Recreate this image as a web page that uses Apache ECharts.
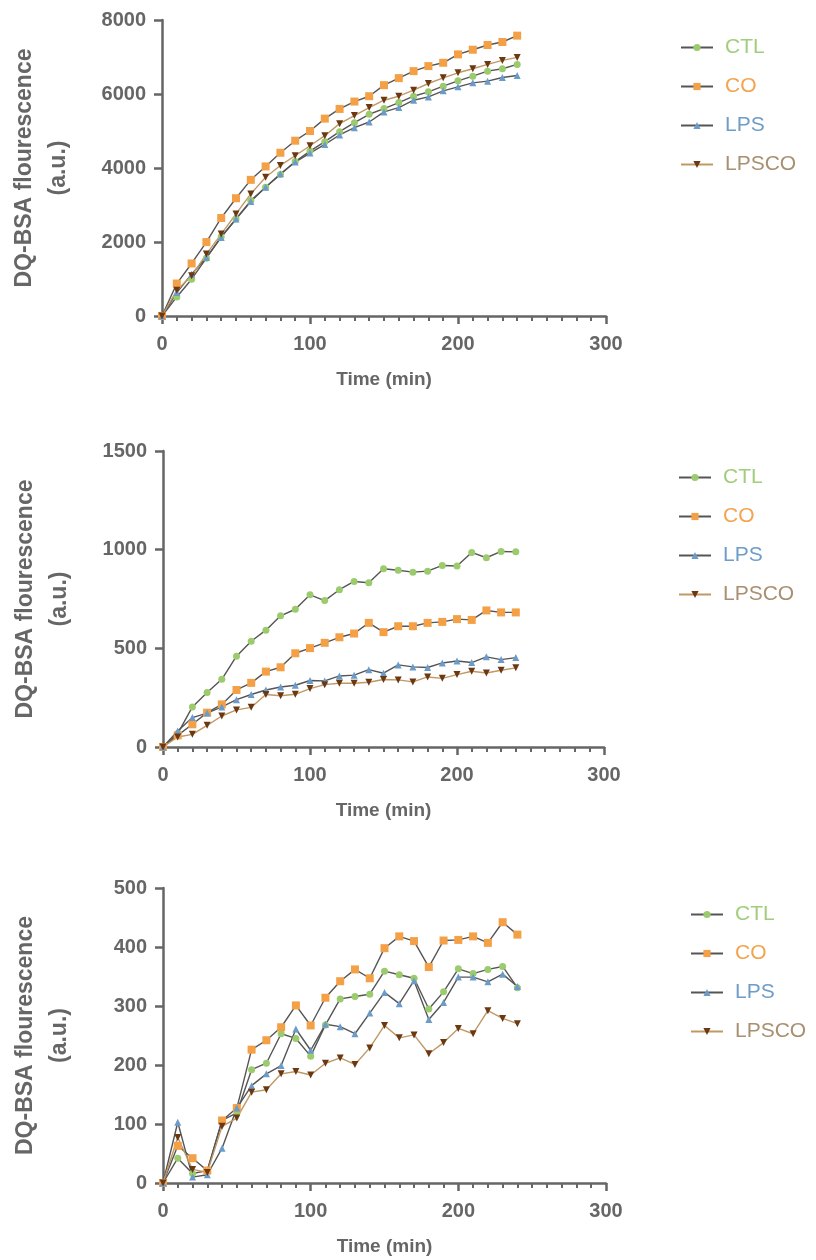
<!DOCTYPE html>
<html>
<head>
<meta charset="utf-8">
<script src="https://cdn.jsdelivr.net/npm/echarts@6/dist/echarts.min.js"></script>
<style>
  body { margin: 0; background: #fff; }
  #chart { width: 816px; height: 1260px; }
</style>
</head>
<body>
<div id="chart"></div>
<script>
var times = [0, 10, 20, 30, 40, 50, 60, 70, 80, 90, 100, 110, 120, 130, 140, 150, 160, 170, 180, 190, 200, 210, 220, 230, 240];
var groups = ["CTL", "CO", "LPS", "LPSCO"];

// panel 1
var ctl1 = [0, 515, 995, 1564, 2143, 2622, 3119, 3481, 3825, 4177, 4458, 4711, 4982, 5226, 5452, 5606, 5769, 5940, 6058, 6212, 6356, 6483, 6618, 6682, 6800];
var co1 = [0, 877, 1420, 1998, 2649, 3183, 3680, 4042, 4412, 4738, 5000, 5335, 5597, 5796, 5940, 6239, 6429, 6618, 6754, 6844, 7071, 7197, 7324, 7405, 7577];
var lps1 = [0, 633, 1130, 1582, 2125, 2622, 3092, 3481, 3843, 4159, 4403, 4638, 4892, 5090, 5244, 5515, 5633, 5832, 5922, 6085, 6193, 6302, 6347, 6447, 6501];
var lpsco1 = [0, 696, 1085, 1673, 2215, 2758, 3300, 3752, 4069, 4331, 4602, 4873, 5199, 5416, 5633, 5832, 5940, 6103, 6284, 6438, 6573, 6682, 6800, 6908, 6989];

// panel 2
var ctl2 = [0, 68, 203, 276, 343, 460, 536, 592, 665, 698, 771, 742, 797, 839, 832, 903, 896, 886, 891, 920, 917, 986, 959, 991, 989];
var co2 = [0, 59, 115, 174, 216, 289, 325, 382, 404, 475, 501, 528, 556, 575, 629, 582, 612, 612, 629, 634, 648, 644, 692, 682, 682];
var lps2 = [0, 81, 149, 172, 203, 240, 266, 289, 304, 313, 337, 335, 360, 364, 392, 374, 416, 406, 403, 426, 436, 428, 457, 443, 453];
var lpsco2 = [0, 51, 64, 110, 157, 188, 201, 266, 260, 267, 296, 316, 323, 323, 328, 342, 340, 330, 355, 348, 367, 384, 375, 389, 401];

// panel 3
var ctl3 = [0, 42, 16, 21, 106, 119, 192, 203, 253, 245, 215, 268, 312, 316, 320, 359, 353, 347, 295, 324, 363, 355, 362, 367, 331];
var co3 = [0, 63, 42, 21, 106, 127, 226, 242, 264, 301, 267, 314, 342, 362, 347, 398, 418, 410, 366, 411, 412, 418, 407, 442, 421];
var lps3 = [0, 103, 10, 14, 59, 127, 165, 185, 199, 261, 225, 269, 265, 253, 288, 323, 304, 343, 277, 306, 349, 349, 341, 354, 333];
var lpsco3 = [0, 77, 23, 18, 96, 110, 154, 158, 185, 189, 183, 203, 212, 201, 229, 267, 246, 251, 219, 238, 262, 253, 292, 279, 270];

var yMax = [8000, 1500, 500];
var yStep = [2000, 500, 100];

var axisColor = "#666";
var markColors = { CTL: "#9ccb6d", CO: "#f3a047", LPS: "#6b9cc9", LPSCO: "#6b3812" };
var textColors = { CTL: "#a3cc7c", CO: "#f2a450", LPS: "#6f9dc8", LPSCO: "#a89070" };
var lineColors = { CTL: "#555", CO: "#555", LPS: "#555", LPSCO: "#bf9864" };
var symbols = { CTL: "circle", CO: "rect", LPS: "triangle", LPSCO: "triangle" };

var panels = [
  [ctl1, co1, lps1, lpsco1],
  [ctl2, co2, lps2, lpsco2],
  [ctl3, co3, lps3, lpsco3]
];

var grids = [
  { left: 157, top: 20, width: 449, height: 296 },
  { left: 163, top: 451, width: 441, height: 296 },
  { left: 163, top: 888, width: 443, height: 295 }
];
var legendPos = [
  { left: 675, top: 31 },
  { left: 673, top: 461 },
  { left: 685, top: 898 }
];

function zip(vals) {
  return times.map(function (t, i) { return [t, vals[i]]; });
}

var xAxes = [], yAxes = [], series = [], legends = [];
grids.forEach(function (g, k) {
  xAxes.push({
    gridIndex: k,
    type: "value",
    min: 0, max: 300, interval: 100,
    name: "Time (min)",
    nameLocation: "middle",
    nameGap: 54,
    nameTextStyle: { color: axisColor, fontWeight: "bold", fontSize: 19, fontFamily: "Liberation Sans" },
    axisLine: { lineStyle: { color: axisColor, width: 2.5 } },
    axisTick: { length: 8, lineStyle: { color: axisColor, width: 2.5 } },
    minorTick: { show: true, splitNumber: 10, length: 5, lineStyle: { color: axisColor, width: 2 } },
    axisLabel: { color: axisColor, fontWeight: "bold", fontSize: 20, fontFamily: "Liberation Sans", margin: 18 },
    splitLine: { show: false }
  });
  yAxes.push({
    gridIndex: k,
    type: "value",
    min: 0, max: yMax[k], interval: yStep[k],
    name: "DQ-BSA flourescence\n(a.u.)",
    nameLocation: "middle",
    nameRotate: 90,
    nameGap: 86,
    nameTextStyle: { color: axisColor, fontWeight: "bold", fontSize: 23, lineHeight: 34, fontFamily: "Liberation Sans" },
    axisLine: { show: true, lineStyle: { color: axisColor, width: 2.5 } },
    axisTick: { show: true, length: 8, lineStyle: { color: axisColor, width: 2.5 } },
    axisLabel: {
      color: axisColor, fontWeight: "bold", fontSize: 20, fontFamily: "Liberation Sans", margin: 16,
      formatter: function (v) { return String(v); }
    },
    splitLine: { show: false }
  });
  groups.forEach(function (name, j) {
    series.push({
      name: name,
      type: "line",
      xAxisIndex: k,
      yAxisIndex: k,
      data: zip(panels[k][j]),
      symbol: symbols[name],
      symbolSize: name === "CTL" ? 7 : (name === "CO" ? 8 : 7),
      symbolRotate: name === "LPSCO" ? 180 : 0,
      lineStyle: { color: lineColors[name], width: 1.4 },
      itemStyle: { color: markColors[name] }
    });
  });
  legends.push({
    orient: "vertical",
    left: legendPos[k].left,
    top: legendPos[k].top,
    itemWidth: 32,
    itemHeight: 9,
    itemGap: 16,
    textStyle: { fontSize: 21, fontFamily: "Liberation Sans", padding: [0, 0, 0, 7], lineHeight: 23 },
    data: groups.map(function (name) {
      return { name: name, textStyle: { color: textColors[name] } };
    })
  });
});

var myChart = echarts.init(document.getElementById("chart"));
myChart.setOption({
  animation: false,
  grid: grids,
  xAxis: xAxes,
  yAxis: yAxes,
  legend: legends,
  series: series
});
</script>
</body>
</html>
